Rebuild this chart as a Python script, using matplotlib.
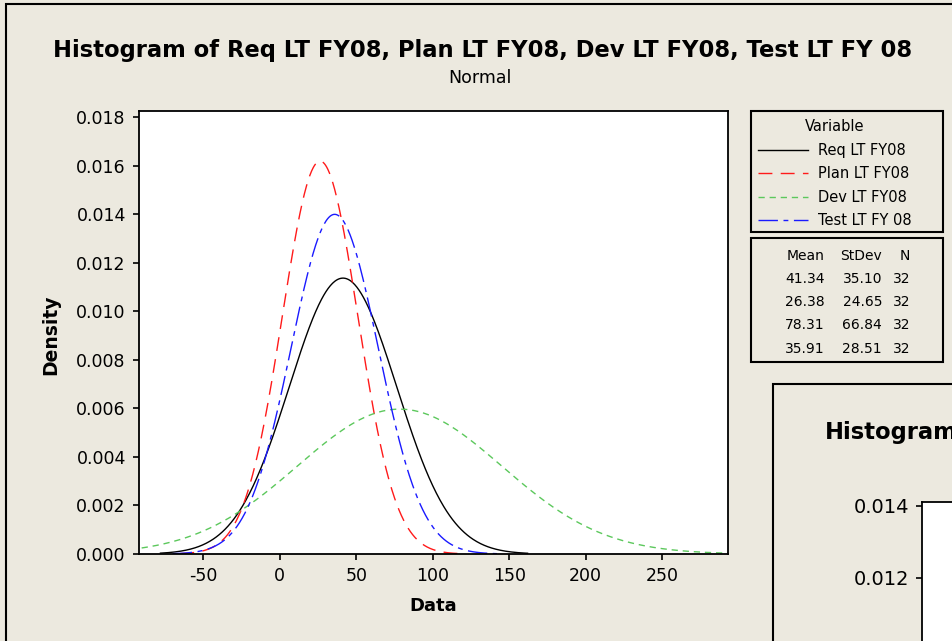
import numpy as np
import matplotlib.pyplot as plt
from matplotlib.patches import Rectangle

W, H = 952, 641
BG = '#ECE9DF'

# summary table (Minitab "Normal" fit)
variables = ['Req LT FY08', 'Plan LT FY08', 'Dev LT FY08', 'Test LT FY 08']
means = [41.34, 26.38, 78.31, 35.91]
stdevs = [35.10, 24.65, 66.84, 28.51]
counts = [32, 32, 32, 32]
# x span over which each fitted curve is drawn
x_from = [-78, -65, -170, -70]
x_to = [162, 118, 327, 142]

colors = ['black', '#FF1A1A', '#5CC85C', '#1A1AFF']
styles = ['-', (0, (10, 6)), (0, (4.5, 3.5)), (0, (14, 4, 3.5, 4))]

xticks = [-50, 0, 50, 100, 150, 200, 250]
yticks = np.arange(0, 0.0181, 0.002)

title = 'Histogram of Req LT FY08, Plan LT FY08, Dev LT FY08, Test LT FY 08'

plt.rcParams['font.family'] = 'DejaVu Sans'
plt.rcParams['axes.unicode_minus'] = False


def box(left, top, right, bottom):
    # pixel box -> figure fraction [l, b, w, h]
    return [left / W, 1 - bottom / H, (right - left) / W, (bottom - top) / H]


def frame(left, top, right, bottom, z=1, fill=False):
    l, b, w, h = box(left, top, right, bottom)
    fig.add_artist(Rectangle((l, b), w, h, transform=fig.transFigure,
                             fill=fill, fc=BG, ec='black', lw=1.5, zorder=z))


fig = plt.figure(figsize=(W / 100, H / 100), dpi=100, facecolor=BG)

# graph window border (runs off the right / bottom edge)
frame(6, 4, 1300, 900)

ax = fig.add_axes(box(139, 111, 728, 554))
for name, m, s, a, b, c, ls in zip(variables, means, stdevs, x_from, x_to, colors, styles):
    x = np.linspace(a, b, 500)
    y = np.exp(-0.5 * ((x - m) / s) ** 2) / (s * np.sqrt(2 * np.pi))
    ax.plot(x, y, color=c, linestyle=ls, lw=1.0, label=name)

ax.set_xlim(-92, 293)
ax.set_ylim(0, 0.01825)
ax.set_xticks(xticks)
ax.set_yticks(yticks)
ax.yaxis.set_major_formatter('{x:.3f}')
ax.tick_params(direction='out', length=4.5, width=1.2, labelsize=12.5, pad=5)
for sp in ax.spines.values():
    sp.set_linewidth(1.3)

ax.set_xlabel('Data', fontsize=13, weight='bold', va='top')
ax.xaxis.set_label_coords(0.5, -0.097)
ax.set_ylabel('Density', fontsize=13.5, weight='bold')
ax.yaxis.set_label_coords(-0.134, 0.494)

fig.text(483 / W, 1 - 50 / H, title, ha='center', va='center', fontsize=16.3, weight='bold')
fig.text(480 / W, 1 - 78 / H, 'Normal', ha='center', va='center', fontsize=12.5)

# legend box
frame(751, 111, 943, 232, z=2)
handles, labels = ax.get_legend_handles_labels()
fig.legend(handles, labels, loc='upper left', bbox_to_anchor=(758 / W, 1 - 119 / H),
           frameon=False, title='Variable', fontsize=10.5, title_fontsize=10.5,
           handlelength=3.4, handletextpad=0.7, labelspacing=0.59,
           borderpad=0, borderaxespad=0)

# stats box
frame(751, 238, 943, 362, z=2)
col_x = [825, 882, 910]
rows = [['Mean', 'StDev', 'N']] + [[f'{m:.2f}', f'{s:.2f}', f'{n}'] for m, s, n in zip(means, stdevs, counts)]
for i, row in enumerate(rows):
    for cx, txt in zip(col_x, row):
        fig.text(cx / W, 1 - (255.5 + 23.3 * i) / H, txt, ha='right', va='center', fontsize=10)

# second graph window peeking in at the bottom right
frame(773, 384, 1400, 1000, z=2, fill=True)
fig.text(825 / W, 1 - 433 / H, 'Histogram', ha='left', va='center', fontsize=16.3,
         weight='bold', zorder=3)
ax2 = fig.add_axes(box(922, 502, 1500, 502 + 0.01411 * 36000))
ax2.set_zorder(3)
ax2.set_ylim(0, 0.01411)
ax2.set_xlim(0, 1)
ax2.set_yticks([0.010, 0.012, 0.014])
ax2.set_xticks([])
ax2.yaxis.set_major_formatter('{x:.3f}')
ax2.tick_params(direction='out', length=4.5, width=1.2, labelsize=14, pad=5)
for sp in ax2.spines.values():
    sp.set_linewidth(1.3)

fig.savefig('out.png', dpi=100, facecolor=BG)
